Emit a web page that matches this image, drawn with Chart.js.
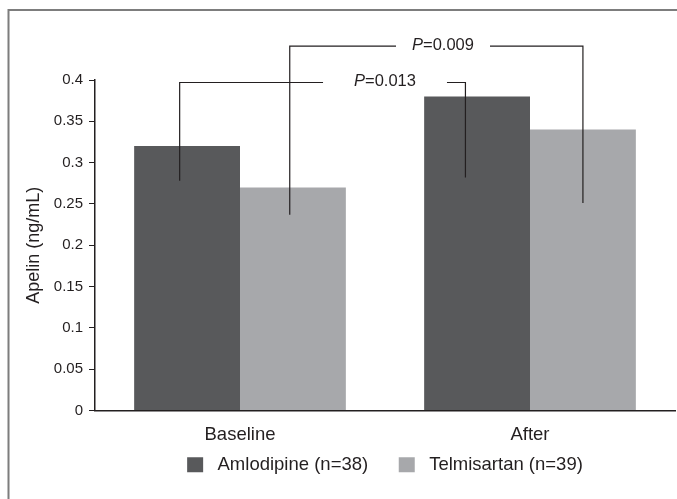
<!DOCTYPE html>
<html>
<head>
<meta charset="utf-8">
<script src="https://cdn.jsdelivr.net/npm/chart.js@4.4.0/dist/chart.umd.min.js"></script>
<style>
    html, body { margin: 0; padding: 0; background: #fff; }
    #wrap { width: 677px; height: 499px; }
</style>
</head>
<body>
<div id="wrap"><canvas id="chart"></canvas></div>
<script>
// Apelin levels, baseline vs after treatment, with P-value brackets.

const categories = ['Baseline', 'After'];
const seriesNames = ['Amlodipine (n=38)', 'Telmisartan (n=39)'];
const amlodipine = [0.32, 0.38];
const telmisartan = [0.27, 0.34];
const yTicks = [0, 0.05, 0.1, 0.15, 0.2, 0.25, 0.3, 0.35, 0.4];

// brackets: which series, P value, top of bracket and the two drop ends (ng/mL)
const pSeries = [0, 1];
const pValues = ['0.013', '0.009'];
const pTop = [0.397, 0.441];
const pLeftEnd = [0.278, 0.237];
const pRightEnd = [0.282, 0.251];

const INK = '#231f20';
const DARK = '#58595b';
const LIGHT = '#a7a8ab';
const FONT = "'Liberation Sans', Arial, sans-serif";

// bracket look: shift of the drops from bar centre (bar widths), label spot (category units), gap round label
const SHIFT_L = [-0.07, -0.03];
const SHIFT_R = [-0.11, 0];
const TEXT_AT = [0.5, 0.7];
const GAP = [31, 16];

Chart.defaults.font.family = FONT;
Chart.defaults.color = INK;

const frame = {
    id: 'frame',
    beforeDraw(chart) {
        const { ctx, width, height } = chart;
        ctx.save();
        ctx.strokeStyle = '#7d7d7d';
        ctx.lineWidth = 2;
        ctx.beginPath();
        ctx.moveTo(8.5, height);
        ctx.lineTo(8.5, 10);
        ctx.lineTo(width, 10);
        ctx.stroke();
        ctx.restore();
    },
};

const brackets = {
    id: 'brackets',
    afterDatasetsDraw(chart) {
        const { ctx, scales: { x, y } } = chart;
        ctx.save();
        ctx.strokeStyle = INK;
        ctx.fillStyle = INK;
        ctx.lineWidth = 1.2;
        ctx.textBaseline = 'middle';
        pValues.forEach((p, i) => {
            const bars = chart.getDatasetMeta(pSeries[i]).data;
            const x0 = bars[0].x + SHIFT_L[i] * bars[0].width;
            const x1 = bars[1].x + SHIFT_R[i] * bars[1].width;
            const yTop = y.getPixelForValue(pTop[i]);
            const tx = x.getPixelForValue(TEXT_AT[i]);

            ctx.font = `italic 16.5px ${FONT}`;
            const wP = ctx.measureText('P').width;
            ctx.font = `16.5px ${FONT}`;
            const wV = ctx.measureText('=' + p).width;
            const left = tx - (wP + wV) / 2;
            const right = left + wP + wV;

            ctx.beginPath();
            ctx.moveTo(x0, y.getPixelForValue(pLeftEnd[i]));
            ctx.lineTo(x0, yTop);
            ctx.lineTo(left - GAP[i], yTop);
            ctx.moveTo(right + GAP[i], yTop);
            ctx.lineTo(x1, yTop);
            ctx.lineTo(x1, y.getPixelForValue(pRightEnd[i]));
            ctx.stroke();

            ctx.font = `italic 16.5px ${FONT}`;
            ctx.fillText('P', left, yTop - 1);
            ctx.font = `16.5px ${FONT}`;
            ctx.fillText('=' + p, left + wP, yTop - 1);
        });
        ctx.restore();
    },
};

new Chart(document.getElementById('chart'), {
    type: 'bar',
    data: {
        labels: categories,
        datasets: [
            {
                label: seriesNames[0],
                data: amlodipine,
                backgroundColor: DARK,
                borderWidth: 0,
                categoryPercentage: 0.73,
                barPercentage: 1,
            },
            {
                label: seriesNames[1],
                data: telmisartan,
                backgroundColor: LIGHT,
                borderWidth: 0,
                categoryPercentage: 0.73,
                barPercentage: 1,
            },
        ],
    },
    options: {
        responsive: true,
        maintainAspectRatio: false,
        animation: false,
        layout: { padding: { left: 22, right: 2, top: 80, bottom: 15 } },
        plugins: {
            legend: {
                position: 'bottom',
                fullSize: false,
                labels: {
                    boxWidth: 16,
                    boxHeight: 15,
                    padding: 10,
                    color: INK,
                    font: { size: 18.5 },
                    // a little more room after the box and between the two items
                    generateLabels: (chart) =>
                        Chart.defaults.plugins.legend.labels.generateLabels(chart)
                            .map((l, i) => ({ ...l, text: ' ' + l.text + (i === 0 ? '    ' : '') })),
                },
            },
            tooltip: { enabled: false },
        },
        scales: {
            x: {
                grid: { display: false, drawTicks: false },
                border: { color: INK, width: 1.5 },
                ticks: { color: INK, font: { size: 18.5 }, padding: 13 },
                afterFit: (s) => { s.height = 35; },
            },
            y: {
                min: 0,
                max: 0.4,
                afterBuildTicks: (s) => { s.ticks = yTicks.map((v) => ({ value: v })); },
                grid: { drawOnChartArea: false, tickLength: 6, color: INK },
                border: { color: INK, width: 1.5 },
                ticks: {
                    color: INK,
                    font: { size: 15 },
                    padding: 6,
                    callback: (v) => String(+v.toFixed(2)),
                },
                title: {
                    display: true,
                    text: 'Apelin (ng/mL)',
                    color: INK,
                    font: { size: 18 },
                    padding: { top: 1, bottom: 0 },
                },
                afterFit: (s) => { s.width = 73; },
            },
        },
    },
    plugins: [frame, brackets],
});
</script>
</body>
</html>
